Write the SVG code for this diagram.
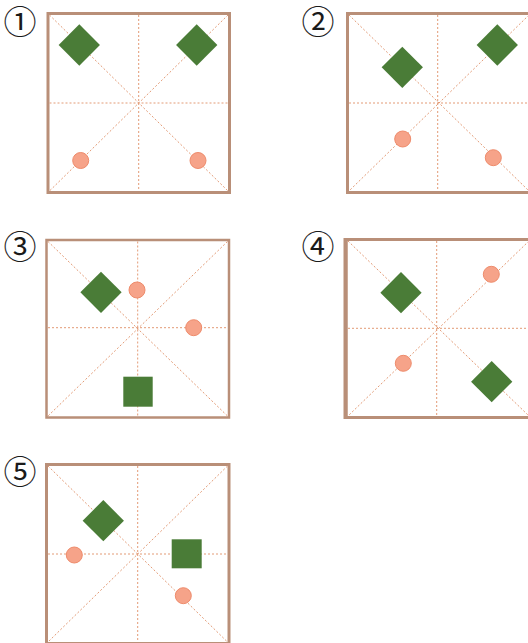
<svg xmlns="http://www.w3.org/2000/svg" width="528" height="643" viewBox="0 0 528 643">
<style>
.frame{fill:#ffffff;stroke:#b98f78;stroke-width:3}
.guide{stroke:#e39b76;stroke-width:1;stroke-dasharray:2 2;fill:none}
.gem{fill:#4a7c37}
.dot{fill:#f6a389;stroke:#ee8b6b;stroke-width:1}
.num{font-family:"Noto Sans CJK JP","Noto Sans CJK SC",sans-serif;font-size:33px;fill:#1a1a1a;text-anchor:middle}
</style>
<rect width="528" height="643" fill="#ffffff"/>
<g id="label-1"><text class="num" x="20" y="34">①</text></g>
<g id="label-2"><text class="num" x="318" y="34">②</text></g>
<g id="label-3"><text class="num" x="20" y="259">③</text></g>
<g id="label-4"><text class="num" x="318" y="259">④</text></g>
<g id="label-5"><text class="num" x="20" y="484">⑤</text></g>

<g id="panel-1">
<rect class="frame" x="48" y="13.5" width="181.5" height="179"/>
<g class="guide">
<line x1="49.5" y1="15" x2="228" y2="191"/>
<line x1="228" y1="15" x2="49.5" y2="191"/>
<line x1="138.7" y1="15" x2="138.7" y2="191"/>
<line x1="49.5" y1="103" x2="228" y2="103"/>
</g>
<rect class="gem" x="-14.6" y="-14.6" width="29.2" height="29.2" transform="translate(79.3,45) rotate(45)"/>
<rect class="gem" x="-14.6" y="-14.6" width="29.2" height="29.2" transform="translate(196.7,45) rotate(45)"/>
<circle class="dot" cx="80.7" cy="160.5" r="8"/>
<circle class="dot" cx="198" cy="160.5" r="8"/>
</g>

<g id="panel-2">
<rect class="frame" x="347.5" y="13.5" width="183" height="179"/>
<g class="guide">
<line x1="349" y1="15" x2="529" y2="191"/>
<line x1="529" y1="15" x2="349" y2="191"/>
<line x1="437.7" y1="15" x2="437.7" y2="191"/>
<line x1="349" y1="103" x2="529" y2="103"/>
</g>
<rect class="gem" x="-14.6" y="-14.6" width="29.2" height="29.2" transform="translate(402.3,67.3) rotate(45)"/>
<rect class="gem" x="-14.6" y="-14.6" width="29.2" height="29.2" transform="translate(497.3,45) rotate(45)"/>
<circle class="dot" cx="402.7" cy="139" r="8"/>
<circle class="dot" cx="493.3" cy="157.7" r="8"/>
</g>

<g id="panel-3">
<rect class="frame" x="46.5" y="240" width="182.5" height="177.5" style="stroke-width:2.5"/>
<g class="guide">
<line x1="48" y1="241.5" x2="227.5" y2="416"/>
<line x1="227.5" y1="241.5" x2="48" y2="416"/>
<line x1="137.7" y1="241.5" x2="137.7" y2="416"/>
<line x1="48" y1="327.7" x2="227.5" y2="327.7"/>
</g>
<rect class="gem" x="-14.6" y="-14.6" width="29.2" height="29.2" transform="translate(101,292.3) rotate(45)"/>
<rect class="gem" x="123.3" y="376.7" width="29.4" height="30"/>
<circle class="dot" cx="137" cy="290" r="8"/>
<circle class="dot" cx="193.7" cy="327.7" r="8"/>
</g>

<g id="panel-4">
<rect class="frame" x="346" y="239.5" width="184" height="178"/>
<line x1="345.5" y1="238" x2="345.5" y2="419" stroke="#b98f78" stroke-width="4"/>
<g class="guide">
<line x1="348" y1="241" x2="529" y2="416"/>
<line x1="529" y1="241" x2="348" y2="416"/>
<line x1="436.7" y1="241" x2="436.7" y2="416"/>
<line x1="348" y1="328.3" x2="529" y2="328.3"/>
</g>
<rect class="gem" x="-14.6" y="-14.6" width="29.2" height="29.2" transform="translate(401,292.7) rotate(45)"/>
<rect class="gem" x="-14.6" y="-14.6" width="29.2" height="29.2" transform="translate(491.7,381.7) rotate(45)"/>
<circle class="dot" cx="491.3" cy="274.3" r="8"/>
<circle class="dot" cx="403.3" cy="363.3" r="8"/>
</g>

<g id="panel-5">
<rect class="frame" x="46.5" y="464.5" width="182.5" height="179"/>
<g class="guide">
<line x1="48" y1="466" x2="227.5" y2="642"/>
<line x1="227.5" y1="466" x2="48" y2="642"/>
<line x1="137.7" y1="466" x2="137.7" y2="642"/>
<line x1="48" y1="554" x2="227.5" y2="554"/>
</g>
<rect class="gem" x="-14.6" y="-14.6" width="29.2" height="29.2" transform="translate(103.3,520.7) rotate(45)"/>
<rect class="gem" x="171.7" y="539.3" width="30" height="29"/>
<circle class="dot" cx="74.3" cy="555" r="8"/>
<circle class="dot" cx="183.3" cy="595.7" r="8"/>
</g>
</svg>
